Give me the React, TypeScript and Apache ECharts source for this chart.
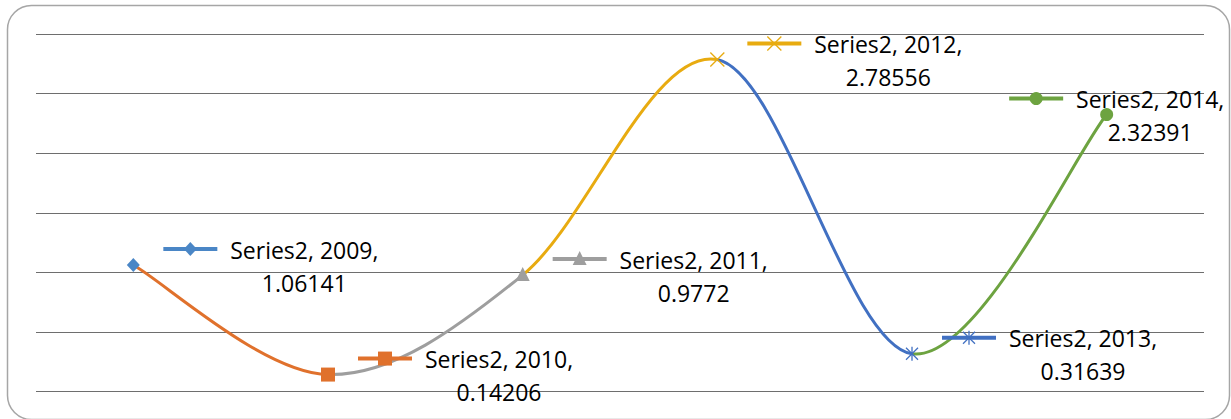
import React, { useEffect, useRef } from "react";
import * as echarts from "echarts";

const seriesName = "Series2";
const years = ["2009", "2010", "2011", "2012", "2013", "2014"];
const values = [1.06141, 0.14206, 0.9772, 2.78556, 0.31639, 2.32391];
const valueLabels = ["1.06141", "0.14206", "0.9772", "2.78556", "0.31639", "2.32391"];
const pointColors = ["#4A86C6", "#E0712C", "#9E9E9E", "#E8AB10", "#4170C2", "#6DA340"];
const markerShapes = ["diamond", "square", "triangle", "x", "star", "circle"];
const yTicks = [0, 0.5, 1, 1.5, 2, 2.5, 3];

const FONT = "'Open Sans', 'Noto Sans', sans-serif";

function marker(shape: string, x: number, y: number, color: string): any[] {
  const s = 7;
  switch (shape) {
    case "diamond":
      return [{ type: "polygon", shape: { points: [[x, y - s], [x + s - 0.5, y], [x, y + s], [x - s + 0.5, y]] }, style: { fill: color } }];
    case "square":
      return [{ type: "rect", shape: { x: x - s, y: y - s, width: 2 * s, height: 2 * s }, style: { fill: color } }];
    case "triangle":
      return [{ type: "polygon", shape: { points: [[x, y - s - 1], [x + s, y + s - 1], [x - s, y + s - 1]] }, style: { fill: color } }];
    case "x":
      return [
        { type: "line", shape: { x1: x - s, y1: y - s, x2: x + s, y2: y + s }, style: { stroke: color, lineWidth: 1.3 } },
        { type: "line", shape: { x1: x - s, y1: y + s, x2: x + s, y2: y - s }, style: { stroke: color, lineWidth: 1.3 } },
      ];
    case "star":
      return [
        { type: "line", shape: { x1: x - s + 1, y1: y - s + 1, x2: x + s - 1, y2: y + s - 1 }, style: { stroke: color, lineWidth: 1.3 } },
        { type: "line", shape: { x1: x - s + 1, y1: y + s - 1, x2: x + s - 1, y2: y - s + 1 }, style: { stroke: color, lineWidth: 1.3 } },
        { type: "line", shape: { x1: x, y1: y - s, x2: x, y2: y + s }, style: { stroke: color, lineWidth: 1.3 } },
      ];
    default:
      return [{ type: "circle", shape: { cx: x, cy: y, r: 6.5 }, style: { fill: color } }];
  }
}

export default function App() {
  const ref = useRef<HTMLDivElement>(null);
  useEffect(() => {
    if (!ref.current) return;
    const chart = echarts.init(ref.current, undefined, { renderer: "svg" });
    const n = values.length;
    const clamp = (j: number) => Math.max(0, Math.min(n - 1, j));
    const data = values.map((v, i) => [i, v]);

    const option: any = {
      animation: false,
      backgroundColor: "#ffffff",
      grid: { left: 36, right: 27, top: 34, bottom: 27.5 },
      xAxis: {
        type: "category",
        data: years,
        boundaryGap: true,
        axisLine: { show: false },
        axisTick: { show: false },
        axisLabel: { show: false },
        splitLine: { show: false },
      },
      yAxis: {
        type: "value",
        min: yTicks[0],
        max: yTicks[yTicks.length - 1],
        interval: yTicks[1] - yTicks[0],
        axisLine: { show: false },
        axisTick: { show: false },
        axisLabel: { show: false },
        splitLine: { show: true, lineStyle: { color: "#6E6E6E", width: 1 } },
      },
      graphic: [
        {
          type: "rect",
          shape: { x: 7.5, y: 5.5, width: 1222, height: 414, r: 24 },
          style: { fill: "none", stroke: "#A6A6A6", lineWidth: 1.5 },
          silent: true,
          z: -1,
        },
      ],
      series: [
        {
          type: "custom",
          name: seriesName + "-curve",
          data,
          encode: { x: 0, y: 1 },
          z: 2,
          renderItem: (params: any, api: any) => {
            const i = params.dataIndex;
            if (i === 0) return null;
            const pt = (j: number) => api.coord([clamp(j), values[clamp(j)]]);
            const p0 = pt(i - 2), p1 = pt(i - 1), p2 = pt(i), p3 = pt(i + 1);
            const t = 1 / 6;
            return {
              type: "bezierCurve",
              shape: {
                x1: p1[0], y1: p1[1],
                x2: p2[0], y2: p2[1],
                cpx1: p1[0] + (p2[0] - p0[0]) * t,
                cpy1: p1[1] + (p2[1] - p0[1]) * t,
                cpx2: p2[0] - (p3[0] - p1[0]) * t,
                cpy2: p2[1] - (p3[1] - p1[1]) * t,
              },
              style: { stroke: pointColors[i], lineWidth: 3, fill: "none" },
            };
          },
        },
        {
          type: "custom",
          name: seriesName + "-markers",
          data,
          encode: { x: 0, y: 1 },
          z: 3,
          renderItem: (params: any, api: any) => {
            const i = params.dataIndex;
            const [px, py] = api.coord([i, values[i]]);
            return { type: "group", children: marker(markerShapes[i], px, py, pointColors[i]) };
          },
        },
        {
          type: "custom",
          name: seriesName + "-labels",
          data,
          encode: { x: 0, y: 1 },
          z: 4,
          renderItem: (params: any, api: any) => {
            const i = params.dataIndex;
            const [px, py] = api.coord([i, values[i]]);
            const shift = px + 260 > api.getWidth() ? -127.5 : 0;
            const kx = px + 30 + shift;
            const ky = py - 16;
            const cx = px + 171 + shift;
            const color = pointColors[i];
            return {
              type: "group",
              children: [
                { type: "line", shape: { x1: kx, y1: ky, x2: kx + 54, y2: ky }, style: { stroke: color, lineWidth: 4 } },
                ...marker(markerShapes[i], kx + 27, ky, color),
                {
                  type: "text",
                  x: cx,
                  y: py - 15.5,
                  style: {
                    text: `${seriesName}, ${years[i]},`,
                    fill: "#000",
                    font: `23px ${FONT}`,
                    align: "center",
                    verticalAlign: "middle",
                  },
                },
                {
                  type: "text",
                  x: cx,
                  y: py + 17.5,
                  style: {
                    text: valueLabels[i],
                    fill: "#000",
                    font: `23px ${FONT}`,
                    align: "center",
                    verticalAlign: "middle",
                  },
                },
              ],
            };
          },
        },
      ],
    };
    chart.setOption(option);
    return () => chart.dispose();
  }, []);
  return (
    <div
      ref={ref}
      style={{ position: "absolute", left: 0, top: 0, width: 1231, height: 419 }}
    />
  );
}
